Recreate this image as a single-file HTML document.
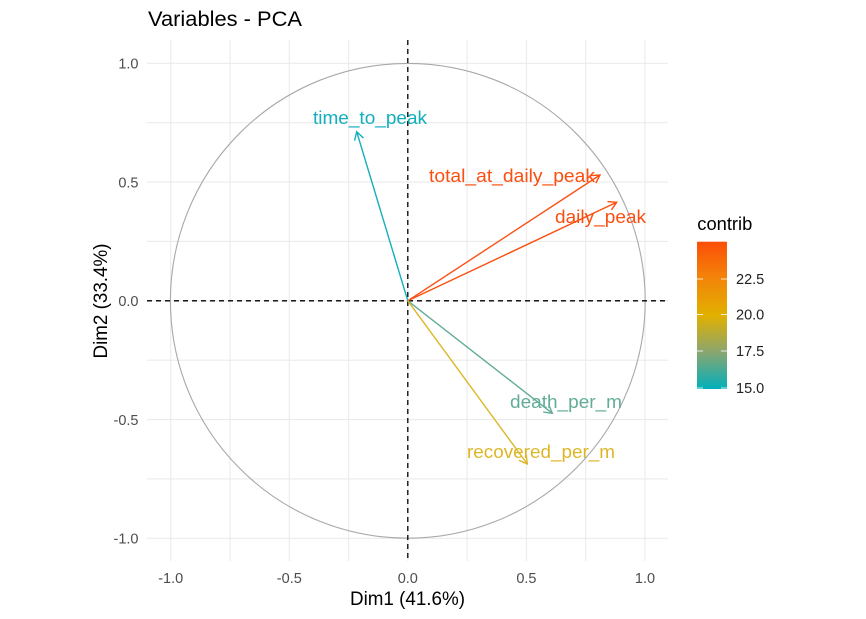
<!DOCTYPE html>
<html><head><meta charset="utf-8"><style>
html,body{margin:0;padding:0;background:#fff;}
svg{display:block;}
text{font-family:"Liberation Sans",Arial,sans-serif;}
</style></head><body>
<svg width="866" height="619" viewBox="0 0 866 619" xmlns="http://www.w3.org/2000/svg">
<defs>
<marker id="mT" markerUnits="userSpaceOnUse" orient="auto" refX="0" refY="0" markerWidth="20" markerHeight="20" viewBox="-10 -10 20 20" overflow="visible"><path d="M-8,-4.6 L0,0 L-8,4.6" fill="none" stroke="#14AEBC" stroke-width="1.4"/></marker>
<marker id="mR" markerUnits="userSpaceOnUse" orient="auto" refX="0" refY="0" markerWidth="20" markerHeight="20" viewBox="-10 -10 20 20" overflow="visible"><path d="M-8,-4.6 L0,0 L-8,4.6" fill="none" stroke="#FB4F12" stroke-width="1.4"/></marker>
<marker id="mD" markerUnits="userSpaceOnUse" orient="auto" refX="0" refY="0" markerWidth="20" markerHeight="20" viewBox="-10 -10 20 20" overflow="visible"><path d="M-8,-4.6 L0,0 L-8,4.6" fill="none" stroke="#62AC98" stroke-width="1.4"/></marker>
<marker id="mC" markerUnits="userSpaceOnUse" orient="auto" refX="0" refY="0" markerWidth="20" markerHeight="20" viewBox="-10 -10 20 20" overflow="visible"><path d="M-8,-4.6 L0,0 L-8,4.6" fill="none" stroke="#DDB628" stroke-width="1.4"/></marker>
<linearGradient id="cb" x1="0" y1="1" x2="0" y2="0">
<stop offset="0" stop-color="#00AFBB"/>
<stop offset="0.25" stop-color="#8AA670"/>
<stop offset="0.5" stop-color="#E2B000"/>
<stop offset="0.75" stop-color="#F28509"/>
<stop offset="1" stop-color="#FC4E07"/>
</linearGradient>
</defs>

<!-- grid -->
<g stroke="#EBEBEB" stroke-width="1.1">
<line x1="170.7" y1="40" x2="170.7" y2="561"/>
<line x1="230" y1="40" x2="230" y2="561"/>
<line x1="289.3" y1="40" x2="289.3" y2="561"/>
<line x1="348.6" y1="40" x2="348.6" y2="561"/>
<line x1="407.8" y1="40" x2="407.8" y2="561"/>
<line x1="467.1" y1="40" x2="467.1" y2="561"/>
<line x1="526.4" y1="40" x2="526.4" y2="561"/>
<line x1="585.7" y1="40" x2="585.7" y2="561"/>
<line x1="645" y1="40" x2="645" y2="561"/>
<line x1="147" y1="63.3" x2="668" y2="63.3"/>
<line x1="147" y1="122.7" x2="668" y2="122.7"/>
<line x1="147" y1="182.1" x2="668" y2="182.1"/>
<line x1="147" y1="241.4" x2="668" y2="241.4"/>
<line x1="147" y1="300.8" x2="668" y2="300.8"/>
<line x1="147" y1="360.2" x2="668" y2="360.2"/>
<line x1="147" y1="419.6" x2="668" y2="419.6"/>
<line x1="147" y1="478.9" x2="668" y2="478.9"/>
<line x1="147" y1="538.3" x2="668" y2="538.3"/>
</g>

<!-- circle -->
<circle cx="407.8" cy="300.8" r="237.4" fill="none" stroke="#A8A8A8" stroke-width="1.1"/>

<!-- dashed axes -->
<line x1="147" y1="300.8" x2="668" y2="300.8" stroke="#000" stroke-width="1.3" stroke-dasharray="5,4"/>
<line x1="407.8" y1="40" x2="407.8" y2="561" stroke="#000" stroke-width="1.3" stroke-dasharray="5,4"/>

<!-- arrows -->
<line x1="407.8" y1="300.8" x2="356.7" y2="131.7" stroke="#14AEBC" stroke-width="1.4" marker-end="url(#mT)"/>
<line x1="407.8" y1="300.8" x2="600" y2="175" stroke="#FB4F12" stroke-width="1.4" marker-end="url(#mR)"/>
<line x1="407.8" y1="300.8" x2="616.7" y2="202.3" stroke="#FB4F12" stroke-width="1.4" marker-end="url(#mR)"/>
<line x1="407.8" y1="300.8" x2="552.3" y2="413.3" stroke="#62AC98" stroke-width="1.4" marker-end="url(#mD)"/>
<line x1="407.8" y1="300.8" x2="527.3" y2="464" stroke="#DDB628" stroke-width="1.4" marker-end="url(#mC)"/>

<!-- labels -->
<g font-size="18">
<text x="313" y="124" fill="#14AEBC" textLength="114" lengthAdjust="spacingAndGlyphs">time_to_peak</text>
<text x="429" y="182" fill="#FB4F12" textLength="166" lengthAdjust="spacingAndGlyphs">total_at_daily_peak</text>
<text x="555" y="223" fill="#FB4F12" textLength="91" lengthAdjust="spacingAndGlyphs">daily_peak</text>
<text x="510" y="408" fill="#62AC98" textLength="112" lengthAdjust="spacingAndGlyphs">death_per_m</text>
<text x="467" y="458" fill="#DDB628" textLength="148" lengthAdjust="spacingAndGlyphs">recovered_per_m</text>
</g>

<!-- y ticks -->
<g font-size="14.5" fill="#4D4D4D" text-anchor="end">
<text x="138.5" y="68.5">1.0</text>
<text x="138.5" y="187.3">0.5</text>
<text x="138.5" y="306">0.0</text>
<text x="138.5" y="424.8">-0.5</text>
<text x="138.5" y="543.5">-1.0</text>
</g>
<!-- x ticks -->
<g font-size="14.5" fill="#4D4D4D" text-anchor="middle">
<text x="170.7" y="583">-1.0</text>
<text x="289.3" y="583">-0.5</text>
<text x="407.8" y="583">0.0</text>
<text x="526.4" y="583">0.5</text>
<text x="645" y="583">1.0</text>
</g>

<!-- titles -->
<text x="148" y="26" font-size="21" fill="#000" textLength="154" lengthAdjust="spacingAndGlyphs">Variables - PCA</text>
<text x="407.5" y="605" font-size="19" fill="#000" text-anchor="middle" textLength="115" lengthAdjust="spacingAndGlyphs">Dim1 (41.6%)</text>
<text transform="translate(107,301) rotate(-90)" x="0" y="0" font-size="19" fill="#000" text-anchor="middle" textLength="115" lengthAdjust="spacingAndGlyphs">Dim2 (33.4%)</text>

<!-- legend -->
<text x="697.3" y="230" font-size="18" fill="#000" textLength="55" lengthAdjust="spacingAndGlyphs">contrib</text>
<rect x="697" y="241.7" width="30" height="147.3" fill="url(#cb)"/>
<g stroke="#fff" stroke-opacity="0.8" stroke-width="1">
<line x1="697" y1="279" x2="703" y2="279"/><line x1="721" y1="279" x2="727" y2="279"/>
<line x1="697" y1="314.5" x2="703" y2="314.5"/><line x1="721" y1="314.5" x2="727" y2="314.5"/>
<line x1="697" y1="351" x2="703" y2="351"/><line x1="721" y1="351" x2="727" y2="351"/>
<line x1="697" y1="388" x2="703" y2="388"/><line x1="721" y1="388" x2="727" y2="388"/>
</g>
<g font-size="14.5" fill="#222">
<text x="736" y="284.2">22.5</text>
<text x="736" y="319.5">20.0</text>
<text x="736" y="356">17.5</text>
<text x="736" y="393">15.0</text>
</g>
</svg>
</body></html>
